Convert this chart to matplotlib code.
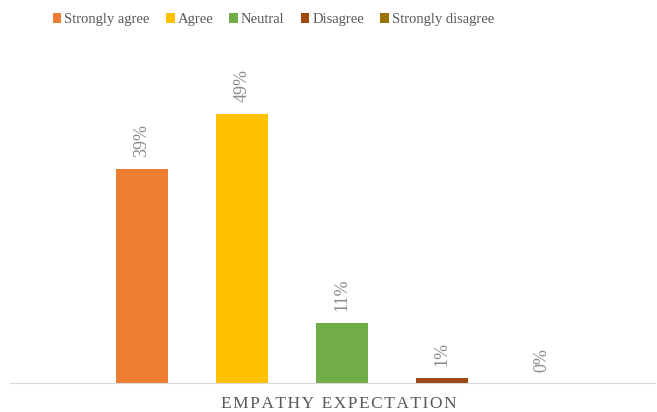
import matplotlib.pyplot as plt

# Data
labels = ['Strongly agree', 'Agree', 'Neutral', 'Disagree', 'Strongly disagree']
values = [39, 49, 11, 1, 0]
colors = ['#ED7D31', '#FFC000', '#70AD47', '#9E480E', '#997300']

plt.rcParams['font.family'] = ['Liberation Serif', 'DejaVu Serif']

fig = plt.figure(figsize=(6.57, 4.12), dpi=100)
ax = fig.add_axes([10 / 657, 29 / 412, 645 / 657, 330 / 412])

x = list(range(len(values)))
bars = ax.bar(x, values, width=0.52, color=colors, label=labels, zorder=2)

# Rotated value labels above bars
for xi, v in zip(x, values):
    ax.annotate(f'{v}%', (xi, v), xytext=(0, 8), textcoords='offset points',
                rotation=90, ha='center', va='bottom', fontsize=13, color='#8C8C8C')

ax.set_xlim(-1.32, 5.13)
ax.set_ylim(0, 60)
ax.set_yticks([])
ax.set_xticks([])
for side in ['top', 'right', 'left']:
    ax.spines[side].set_visible(False)
ax.spines['bottom'].set_color('#D9D9D9')
ax.spines['bottom'].set_zorder(3)

xlabel = '\u200a'.join('EMPATHY EXPECTATION')
ax.set_xlabel(xlabel, fontsize=12.5, color='#595959', labelpad=9, x=0.51)

fig.legend(handles=bars, labels=labels, loc='upper center', bbox_to_anchor=(0.416, 1.0),
           ncol=5, frameon=False, fontsize=10.5, handlelength=0.6, handleheight=0.6,
           handletextpad=0.2, columnspacing=1.1, labelcolor='#595959')

fig.savefig('out.png', dpi=100)
